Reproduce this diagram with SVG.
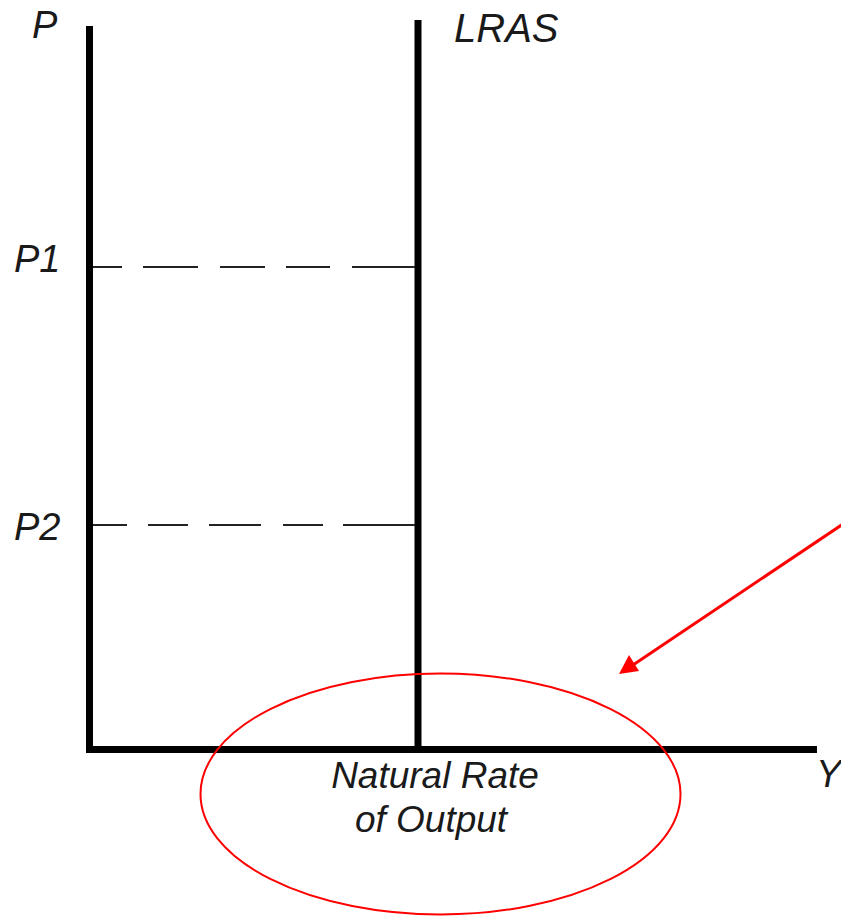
<svg xmlns="http://www.w3.org/2000/svg" width="841" height="916" viewBox="0 0 841 916">
<defs>
<style>
.lbl{font-family:"Liberation Sans",Arial,sans-serif;font-style:italic;fill:#1a1a1a}
.axis{stroke:#000;stroke-width:7;fill:none}
.dash{stroke:#222;stroke-width:2.2;fill:none}
.red{stroke:#ff0000;fill:none}
</style>
</defs>
<rect width="841" height="916" fill="#fff"/>
<g id="axes">
<path class="axis" d="M89.5,26 V749.5 H817"/>
</g>
<g id="lras">
<line class="axis" x1="418" y1="20" x2="418" y2="749"/>
<text class="lbl" x="454" y="42" font-size="40">LRAS</text>
</g>
<g id="p-labels">
<text class="lbl" x="32" y="38" font-size="38">P</text>
<text class="lbl" x="14" y="272" font-size="38">P1</text>
<text class="lbl" x="14" y="540" font-size="38">P2</text>
<text class="lbl" x="816" y="787" font-size="38">Y</text>
</g>
<g id="connectors">
<path class="dash" d="M93,267 H122 M143,267 H198 M220,267 H265 M286,267 H330 M352,267 H415"/>
<path class="dash" d="M93,525 H127 M148,525 H188 M209,525 H261 M283,525 H323 M343,525 H415"/>
<line class="red" stroke-width="3" x1="843" y1="524" x2="630" y2="667"/>
<path d="M619,674 L629,655 L639,671 z" fill="#ff0000"/>
</g>
<g id="natural-rate">
<text class="lbl" x="435" y="788" font-size="37" text-anchor="middle">Natural Rate</text>
<text class="lbl" x="431" y="832" font-size="37" text-anchor="middle">of Output</text>
<ellipse class="red" stroke-width="2" cx="440.5" cy="794" rx="240" ry="120.5"/>
</g>
</svg>
